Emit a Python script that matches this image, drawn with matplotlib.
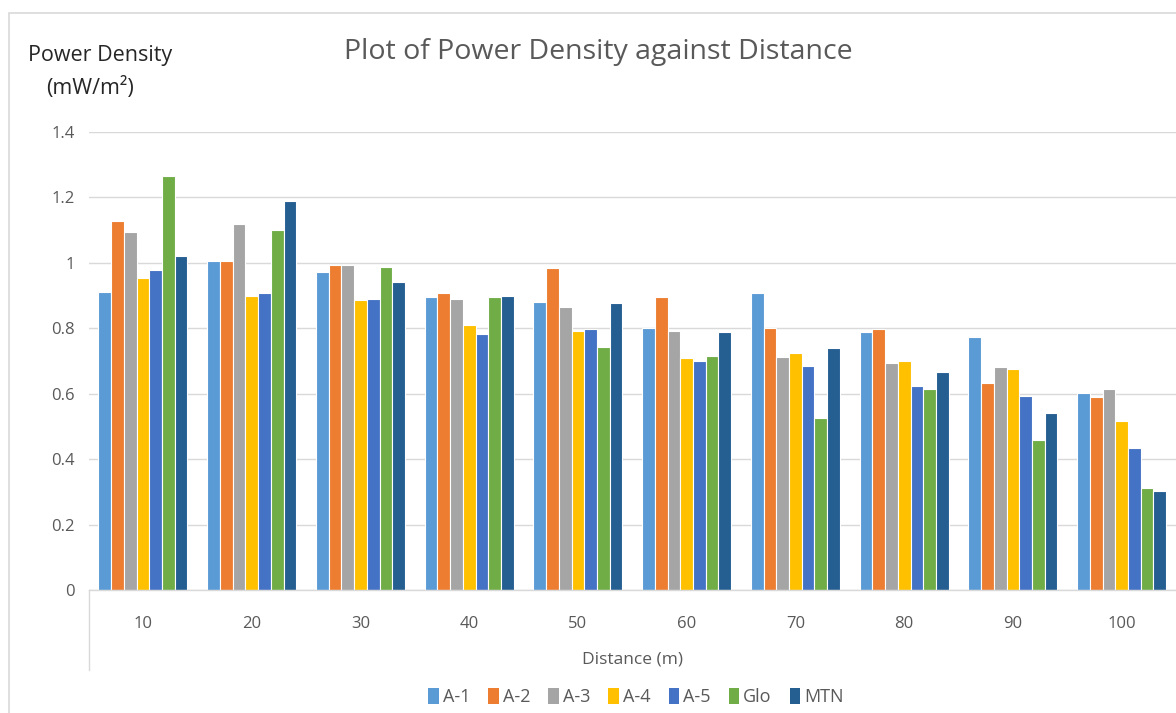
import matplotlib.pyplot as plt
import matplotlib.patches as mpatches
import numpy as np

plt.rcParams['font.family'] = ['Open Sans', 'DejaVu Sans']

# data
distances = ['10', '20', '30', '40', '50', '60', '70', '80', '90', '100']
series_names = ['A-1', 'A-2', 'A-3', 'A-4', 'A-5', 'Glo', 'MTN']
a1 = [0.910, 1.007, 0.972, 0.895, 0.880, 0.802, 0.909, 0.788, 0.773, 0.603]
a2 = [1.128, 1.007, 0.992, 0.909, 0.983, 0.895, 0.802, 0.798, 0.632, 0.589]
a3 = [1.095, 1.118, 0.992, 0.891, 0.866, 0.793, 0.711, 0.695, 0.681, 0.614]
a4 = [0.953, 0.900, 0.885, 0.811, 0.793, 0.709, 0.725, 0.700, 0.676, 0.516]
a5 = [0.978, 0.909, 0.891, 0.784, 0.797, 0.700, 0.686, 0.623, 0.593, 0.433]
glo = [1.266, 1.099, 0.987, 0.895, 0.744, 0.714, 0.525, 0.614, 0.458, 0.311]
mtn = [1.021, 1.188, 0.943, 0.900, 0.876, 0.788, 0.739, 0.667, 0.540, 0.302]
y_ticks = [0, 0.2, 0.4, 0.6, 0.8, 1, 1.2, 1.4]
y_tick_labels = ['0', '0.2', '0.4', '0.6', '0.8', '1', '1.2', '1.4']

colors = ['#5B9BD5', '#ED7D31', '#A5A5A5', '#FFC000', '#4472C4', '#70AD47', '#255E91']
all_series = [a1, a2, a3, a4, a5, glo, mtn]

fig = plt.figure(figsize=(11.76, 7.13), dpi=100)
ax = fig.add_axes([88.6 / 1176, 1 - 590 / 713, 1 - 88.6 / 1176, (590 - 132) / 713])

# chart area frame
fig.patches.append(mpatches.Rectangle((9 / 1176, -0.1), 1.2, 1 - 13 / 713 + 0.1,
                                      transform=fig.transFigure, fill=False,
                                      edgecolor='#d9d9d9', linewidth=1.2))

x = np.arange(len(distances))
bw = 0.117
for i, (name, vals) in enumerate(zip(series_names, all_series)):
    offs = (i - 3) * bw
    ax.bar(x + offs, vals, width=bw, color=colors[i], edgecolor='white',
           linewidth=0.8, label=name, zorder=3)

ax.set_xlim(-0.5, len(distances) - 0.5)
ax.set_ylim(0, 1.4)
ax.set_yticks(y_ticks)
ax.set_yticklabels(y_tick_labels)
ax.set_xticks(x)
ax.set_xticklabels(distances)
ax.tick_params(axis='both', length=0, labelsize=12, colors='#595959')
ax.tick_params(axis='x', pad=19)
ax.tick_params(axis='y', pad=10)

ax.grid(axis='y', color='#d9d9d9', linewidth=1, zorder=0)
for s in ['top', 'right', 'left']:
    ax.spines[s].set_visible(False)
ax.spines['bottom'].set_color('#d9d9d9')
ax.spines['bottom'].set_linewidth(1)
ax.spines['bottom'].set_zorder(4)

# vertical line under the category axis
ax.plot([0, 0], [0, -80 / 458], transform=ax.transAxes, color='#d9d9d9',
        linewidth=1, clip_on=False)

fig.text(598 / 1176, 1 - 52 / 713, 'Plot of Power Density against Distance',
         ha='center', va='center', fontsize=20.5, color='#595959')
fig.text(100 / 1176, 1 - 56 / 713, 'Power Density', ha='center', va='center',
         fontsize=15.5, color='#262626')
fig.text(90 / 1176, 1 - 88 / 713, '(mW/m²)', ha='center', va='center',
         fontsize=15.5, color='#262626')
fig.text(632 / 1176, 1 - 659 / 713, 'Distance (m)', ha='center', va='center',
         fontsize=12.5, color='#595959')

leg = fig.legend(loc='center', bbox_to_anchor=(636 / 1176, 1 - 697 / 713),
                 ncol=7, frameon=False, fontsize=13, handlelength=0.6,
                 handleheight=1.0, handletextpad=0.2, columnspacing=1.0,
                 labelcolor='#595959')
for h in leg.legend_handles:
    h.set_edgecolor('none')

fig.savefig('out.png', dpi=100)
